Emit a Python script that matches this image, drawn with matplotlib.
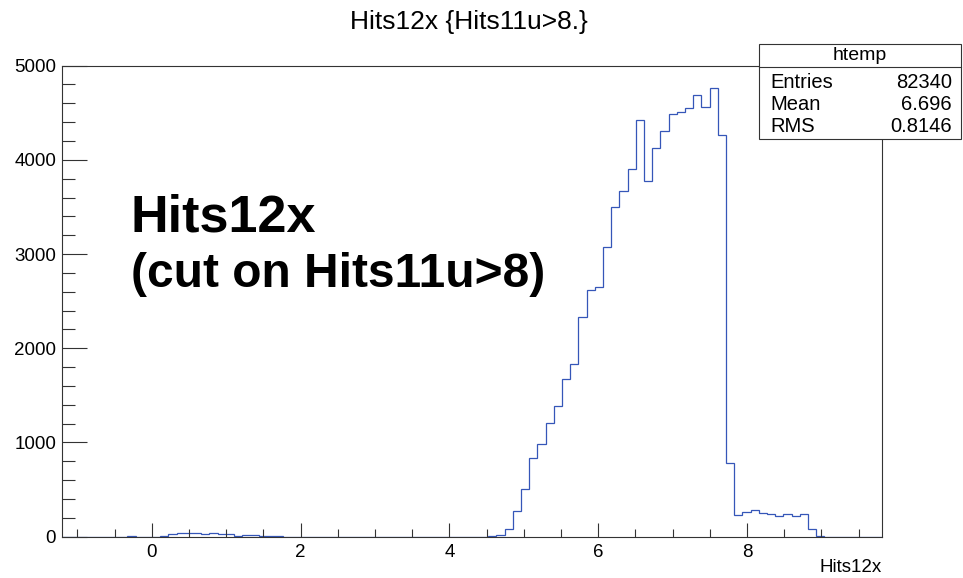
import numpy as np
import matplotlib
matplotlib.use("Agg")
import matplotlib.pyplot as plt
from matplotlib.patches import Rectangle
from matplotlib.lines import Line2D

plt.rcParams['font.family'] = ['Liberation Sans', 'DejaVu Sans']

# htemp: 100 bins, Hits12x with cut Hits11u>8
x_min = -1.21
x_max = 9.81
n_bins = 100
counts = [0] * n_bins
# low-side bins
low_bins = {8: 8, 12: 5, 13: 28, 14: 38, 15: 38, 16: 38, 17: 32, 18: 38,
            19: 32, 20: 28, 21: 7, 22: 14, 23: 14, 24: 7, 25: 7, 26: 5}
# main peak, bins 52..92
peak_start = 52
peak_counts = [7, 14, 85, 270, 510, 833, 985, 1211, 1385, 1678,
               1835, 2330, 2620, 2649, 3074, 3495, 3669, 3899, 4419, 3778,
               4122, 4306, 4490, 4508, 4551, 4692, 4561, 4763, 4260, 780,
               230, 260, 280, 248, 245, 216, 237, 223, 237, 85,
               12]
for b, c in low_bins.items():
    counts[b] = c
for i, c in enumerate(peak_counts):
    counts[peak_start + i] = c

stat_names = ["Entries", "Mean", "RMS"]
stat_values = ["82340", "6.696", "0.8146"]
hist_name = "htemp"
title = "Hits12x {Hits11u>8.}"
xlabel = "Hits12x"
note_lines = ["Hits12x", "(cut on Hits11u>8)"]

W, H = 963, 578
fig = plt.figure(figsize=(W / 100, H / 100), dpi=100)
ax = fig.add_axes([61.7 / W, 1 - 536.7 / H, (881.7 - 61.7) / W, (536.7 - 65.5) / H])

edges = np.linspace(x_min, x_max, n_bins + 1)
ax.stairs(counts, edges, color='#3556b8', linewidth=0.9, zorder=1)

ax.set_xlim(x_min, x_max)
ax.set_ylim(0, 1.05 * max(counts))

ax.set_xticks([0, 2, 4, 6, 8])
ax.set_xticks(np.arange(-1.0, 9.81, 0.5), minor=True)
ax.set_yticks([0, 1000, 2000, 3000, 4000, 5000])
ax.set_yticks(np.arange(0, 5001, 200), minor=True)
ax.tick_params(axis='both', which='both', direction='in', top=False, right=False,
               color='#333333', width=0.8, labelsize=13.5)
ax.tick_params(axis='x', which='major', length=10, pad=5)
ax.tick_params(axis='x', which='minor', length=5.5)
ax.tick_params(axis='y', which='major', length=18, pad=4)
ax.tick_params(axis='y', which='minor', length=9.5)
for sp in ax.spines.values():
    sp.set_color('#333333')
    sp.set_linewidth(0.8)
    sp.set_zorder(3)

fig.text(468.5 / W, 1 - 22 / H, title, ha='center', va='center', fontsize=19)
fig.text(881.7 / W, 1 - 567 / H, xlabel, ha='right', va='center', fontsize=13.5)

fig.text(131 / W, 1 - 231 / H, note_lines[0], ha='left', va='baseline',
         fontsize=37.5, fontweight='bold')
fig.text(131 / W, 1 - 287 / H, note_lines[1], ha='left', va='baseline',
         fontsize=34.5, fontweight='bold')

# stats box
bx0, bx1, by0, by1, bsep = 759, 961, 44, 139, 67
fig.patches.append(Rectangle((bx0 / W, 1 - by1 / H), (bx1 - bx0) / W, (by1 - by0) / H,
                             transform=fig.transFigure, facecolor='white',
                             edgecolor='#333333', linewidth=0.8, zorder=5))
fig.lines.append(Line2D([bx0 / W, bx1 / W], [1 - bsep / H, 1 - bsep / H],
                        transform=fig.transFigure, color='#333333', linewidth=0.8, zorder=6))
fig.text((bx0 + bx1) / 2 / W, 1 - 56 / H, hist_name, ha='center', va='center',
         fontsize=14, zorder=7)
for k, (nm, val) in enumerate(zip(stat_names, stat_values)):
    yy = 1 - (83 + 22 * k) / H
    fig.text(770 / W, yy, nm, ha='left', va='center', fontsize=14.5, zorder=7)
    fig.text(952 / W, yy, val, ha='right', va='center', fontsize=14.5, zorder=7)

fig.savefig("out.png", dpi=100)
